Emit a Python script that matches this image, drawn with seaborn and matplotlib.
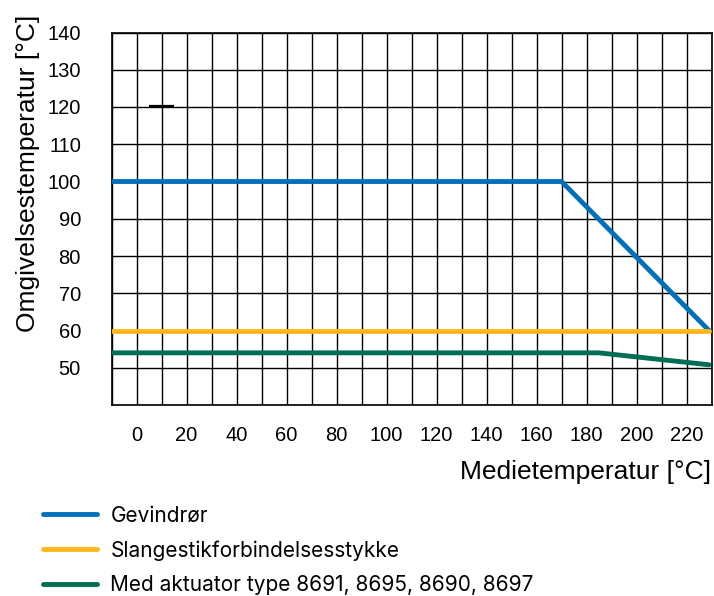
import matplotlib
matplotlib.use("Agg")
import matplotlib.pyplot as plt
import seaborn as sns
import pandas as pd
import numpy as np

# Derating curves: ambient temperature limit vs. medium temperature
series_names = [
    "Gevindrør",
    "Slangestikforbindelsesstykke",
    "Med aktuator type 8691, 8695, 8690, 8697",
]
gevind_x = [-10, 170, 229]
gevind_y = [100, 100, 60]
slange_x = [-10, 229]
slange_y = [60, 60]
aktuator_x = [-10, 185, 229]
aktuator_y = [54, 54, 50.8]

colors = ["#0070BA", "#FFB81C", "#006E55"]

x_tick_values = list(range(0, 221, 20))
y_tick_values = list(range(50, 141, 10))

frames = []
for name, xs, ys in zip(series_names,
                        [gevind_x, slange_x, aktuator_x],
                        [gevind_y, slange_y, aktuator_y]):
    frames.append(pd.DataFrame({"medium": xs, "ambient": ys, "serie": name}))
df = pd.concat(frames, ignore_index=True)

sns.set_style("white")
plt.rcParams["font.family"] = ["Liberation Sans", "DejaVu Sans"]
plt.rcParams["text.color"] = "black"
plt.rcParams["axes.labelcolor"] = "black"
plt.rcParams["xtick.color"] = "black"
plt.rcParams["ytick.color"] = "black"

fig = plt.figure(figsize=(7.14, 5.96), dpi=100)
ax = fig.add_axes([111.5 / 714, 1 - 405 / 596, 600 / 714, 372.5 / 596])

sns.lineplot(data=df, x="medium", y="ambient", hue="serie",
             hue_order=series_names, palette=colors, linewidth=3.5,
             sort=False, estimator=None, ax=ax, zorder=3)

ax.set_xlim(-10, 230)
ax.set_ylim(40, 140)

# grid every 10 °C in both directions
ax.set_xticks(x_tick_values)
ax.set_xticks(np.arange(-10, 231, 10), minor=True)
ax.set_yticks(y_tick_values)
ax.set_yticks(np.arange(40, 141, 10), minor=True)
ax.grid(True, which="both", color="black", linewidth=1.0, zorder=1)
ax.set_axisbelow(True)
ax.tick_params(which="both", length=0)
ax.tick_params(axis="x", pad=15, labelsize=14.5)
ax.tick_params(axis="y", pad=22, labelsize=14.5)

for side in ["left", "right", "top", "bottom"]:
    ax.spines[side].set_visible(True)
    ax.spines[side].set_color("black")
    ax.spines[side].set_linewidth(1.2)

# small marker stroke on the 120 °C line
ax.hlines(120.3, 5, 15, color="black", linewidth=1.6, zorder=2)

ax.set_xlabel("Medietemperatur [°C]", fontsize=19, loc="right", labelpad=11)
ax.set_ylabel("Omgivelsestemperatur [°C]", fontsize=19)
ax.yaxis.set_label_coords((40 - 111.5) / 600, (405 - 173) / 372.5)

handles, labels = ax.get_legend_handles_labels()
ax.get_legend().remove()
for h in handles:
    h.set_linewidth(3.5)
fig.legend(handles, labels, loc="upper left",
           bbox_to_anchor=(24 / 714, 1 - 487 / 596),
           frameon=False, handlelength=2.6, handletextpad=0.65,
           labelspacing=0.69, prop={"family": "Inter", "size": 15})

fig.savefig("out.png", dpi=100)
